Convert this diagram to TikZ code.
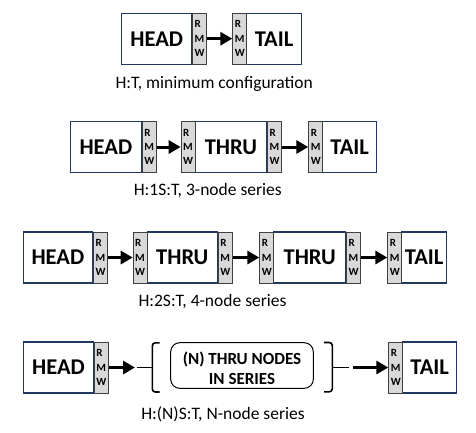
\documentclass[tikz,border=0pt]{standalone}
\usepackage{fontspec}
\setmainfont{Carlito}
\usetikzlibrary{arrows.meta}
\definecolor{navy}{RGB}{31,56,100}
\definecolor{stripgray}{RGB}{217,217,217}
\begin{document}
\begin{tikzpicture}[x=1pt,y=-1pt,
  txtbox/.style={draw=navy, line width=1.1pt, minimum height=51pt, inner sep=0pt,
    anchor=west, font=\bfseries\fontsize{22.5}{22}\selectfont},
  rmw/.style={draw=black!75, fill=stripgray, line width=0.9pt, minimum height=51pt,
    minimum width=14pt, inner xsep=1pt, inner ysep=0pt, align=left, anchor=west,
    font=\bfseries\fontsize{11}{14.3}\selectfont},
  arr/.style={line width=3pt, -{Triangle[length=12pt,width=13pt]}},
  brk/.style={line width=1.6pt, rounded corners=3pt},
  stub/.style={line width=1.6pt},
  groupbox/.style={draw=black, line width=1pt, rounded corners=9pt, minimum width=142.6pt,
    minimum height=45.6pt},
  grouptext/.style={align=center, inner sep=0pt, font=\bfseries\fontsize{17}{20}\selectfont},
  caption/.style={anchor=base, font=\fontsize{17.5}{20}\selectfont}
]
\fill[white] (0,0) rectangle (476,432);
\useasboundingbox (0,0) rectangle (476,432);

% ---------- Row 1 ----------
\node[txtbox, minimum width=69.7pt] (h1) at (121.3,38.7) {HEAD};
\node[rmw] (h1s) at (h1.east) {R\\M\\W};
\node[txtbox, minimum width=54.4pt] (t1) at (246.3,38.7) {TAIL};
\node[rmw] (t1s) at (232.3,38.7) {R\\M\\W};
\draw[arr] (h1s.east) -- (t1s.west);
\node[caption] (c1) at (214.2,88.3) {H:T, minimum configuration};

% ---------- Row 2 ----------
\node[txtbox, minimum width=70.7pt] (h2) at (70,147) {HEAD};
\node[rmw] (h2s) at (h2.east) {R\\M\\W};
\node[txtbox, minimum width=71.3pt] (m2) at (194.7,147) {THRU};
\node[rmw] (m2a) at (180.7,147) {R\\M\\W};
\node[rmw] (m2b) at (m2.east) {R\\M\\W};
\node[txtbox, minimum width=53.7pt] (t2) at (322.3,147) {TAIL};
\node[rmw] (t2s) at (308.3,147) {R\\M\\W};
\draw[arr] (h2s.east) -- (m2a.west);
\draw[arr] (m2b.east) -- (t2s.west);
\node[caption] (c2) at (207.8,195) {H:1S:T, 3-node series};

% ---------- Row 3 ----------
\node[txtbox, minimum width=69.3pt] (h3) at (22.7,257.5) {HEAD};
\node[rmw] (h3s) at (h3.east) {R\\M\\W};
\node[txtbox, minimum width=70pt] (m3) at (146.7,257.5) {THRU};
\node[rmw] (m3a) at (132.7,257.5) {R\\M\\W};
\node[rmw] (m3b) at (m3.east) {R\\M\\W};
\node[txtbox, minimum width=71.7pt] (n3) at (273.3,257.5) {THRU};
\node[rmw] (n3a) at (259.3,257.5) {R\\M\\W};
\node[rmw] (n3b) at (n3.east) {R\\M\\W};
\node[txtbox, minimum width=44.7pt] (t3) at (401.3,257.5) {TAIL};
\node[rmw] (t3s) at (387.3,257.5) {R\\M\\W};
\draw[arr] (h3s.east) -- (m3a.west);
\draw[arr] (m3b.east) -- (n3a.west);
\draw[arr] (n3b.east) -- (t3s.west);
\node[caption] (c3) at (212.5,306) {H:2S:T, 4-node series};

% ---------- Row 4 ----------
\node[txtbox, minimum width=69.4pt] (h4) at (23.3,367.5) {HEAD};
\node[rmw] (h4s) at (h4.east) {R\\M\\W};
\node[txtbox, minimum width=53.7pt] (t4) at (402.3,367.5) {TAIL};
\node[rmw] (t4s) at (388.3,367.5) {R\\M\\W};
\node[groupbox] (grp) at (242,365.5) {};
\node[grouptext] (grpt) at (242,368) {(N) THRU NODES\\IN SERIES};

\coordinate (a4end) at (135,367.5);
\coordinate (lstub) at (136.5,367.5);
\coordinate (lmid) at (152.3,367.5);
\coordinate (ltop) at (159.5,342.8);
\coordinate (lbot) at (159.5,392);
\coordinate (rmid) at (332.3,367.5);
\coordinate (rtop) at (324,342.5);
\coordinate (rbot) at (324,391.8);
\coordinate (rstub) at (349.3,367.5);
\coordinate (a4start) at (353.3,367.5);

\draw[arr] (h4s.east) -- (a4end);
\draw[stub] (lstub) -- (lmid);
\draw[brk] (ltop) -- (ltop -| lmid) -- (lbot -| lmid) -- (lbot);
\draw[brk] (rtop) -- (rtop -| rmid) -- (rbot -| rmid) -- (rbot);
\draw[stub] (rmid) -- (rstub);
\draw[arr] (a4start) -- (t4s.west);
\node[caption] (c4) at (223,419.3) {H:(N)S:T, N-node series};
\end{tikzpicture}
\end{document}
